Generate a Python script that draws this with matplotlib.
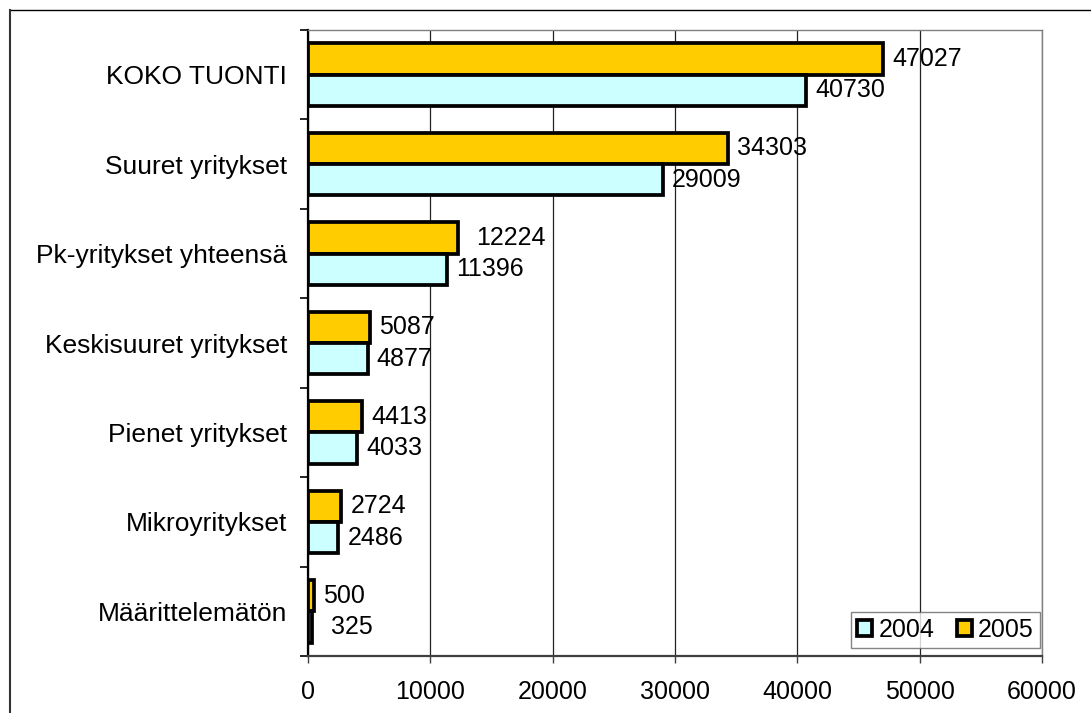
import matplotlib
matplotlib.use("Agg")
import matplotlib.pyplot as plt
from matplotlib.patches import Patch
from matplotlib.lines import Line2D

plt.rcParams['font.family'] = ['Liberation Sans', 'DejaVu Sans']

categories = ["KOKO TUONTI", "Suuret yritykset", "Pk-yritykset yhteensä",
              "Keskisuuret yritykset", "Pienet yritykset", "Mikroyritykset",
              "Määrittelemätön"]
values_2004 = [40730, 29009, 11396, 4877, 4033, 2486, 325]
values_2005 = [47027, 34303, 12224, 5087, 4413, 2724, 500]
series_names = ["2004", "2005"]
x_ticks = [0, 10000, 20000, 30000, 40000, 50000, 60000]

# extra label offsets (points) for labels that sit further from their bar
extra_2004 = [0, 0, 0, 0, 0, 0, 7]
extra_2005 = [0, 0, 7, 0, 0, 0, 0]

c2004 = "#CCFFFF"
c2005 = "#FFCC00"

fig = plt.figure(figsize=(10.91, 7.13), dpi=100)
ax = fig.add_axes([308/1091, 1-656/713, (1042-308)/1091, (656-30)/713])

n = len(categories)
h = 0.35
centers = [i + 0.5 for i in range(n)]
y05 = [c - h/2 for c in centers]
y04 = [c + h/2 for c in centers]

elw = 2.7
ax.barh(y05, values_2005, height=h, color=c2005, edgecolor="black", linewidth=elw, zorder=3)
ax.barh(y04, values_2004, height=h, color=c2004, edgecolor="black", linewidth=elw, zorder=3)

fs = 18
for y, v, e in zip(y05, values_2005, extra_2005):
    ax.annotate(str(v), xy=(v, y), xytext=(6.5 + e, 0), textcoords="offset points",
                va="center", ha="left", fontsize=fs, zorder=4)
for y, v, e in zip(y04, values_2004, extra_2004):
    ax.annotate(str(v), xy=(v, y), xytext=(6.5 + e, 0), textcoords="offset points",
                va="center", ha="left", fontsize=fs, zorder=4)

ax.set_xlim(x_ticks[0], x_ticks[-1])
ax.set_ylim(n, 0)
ax.set_xticks(x_ticks)
ax.set_xticklabels([str(t) for t in x_ticks], fontsize=fs)
ax.set_yticks(range(n + 1))
ax.set_yticklabels([])
ax.set_yticks(centers, minor=True)
ax.set_yticklabels(categories, minor=True, fontsize=19)
ax.tick_params(axis="y", which="minor", length=0, pad=15)
ax.tick_params(axis="y", which="major", length=6, width=1.2, direction="out", color="black")
ax.tick_params(axis="x", which="major", length=5, width=1.0, direction="out", color="#404040", pad=12)

ax.grid(axis="x", color="#222222", linewidth=0.9, zorder=0)
ax.set_axisbelow(True)

ax.spines["left"].set_color("black")
ax.spines["left"].set_linewidth(1.6)
ax.spines["bottom"].set_color("#404040")
ax.spines["bottom"].set_linewidth(1.6)
ax.spines["top"].set_color("#808080")
ax.spines["top"].set_linewidth(1.0)
ax.spines["right"].set_color("#808080")
ax.spines["right"].set_linewidth(1.0)

handles = [Patch(facecolor=c2004, edgecolor="black", linewidth=elw),
           Patch(facecolor=c2005, edgecolor="black", linewidth=elw)]
leg = ax.legend(handles, series_names, loc="lower right",
                bbox_to_anchor=((1040-308)/734, (656-648)/626),
                borderaxespad=0, ncol=2, fontsize=fs, frameon=True, fancybox=False,
                handlelength=0.6, handleheight=0.6, handletextpad=0.25,
                columnspacing=0.9, borderpad=0.25)
leg.get_frame().set_edgecolor("#666666")
leg.get_frame().set_linewidth(1.0)
leg.set_zorder(5)

# outer chart frame (extends past the right and bottom edges)
fx = 10/1091
fy = 1 - 9.5/713
fig.add_artist(Line2D([fx, 1.0], [fy, fy], transform=fig.transFigure, color="black", linewidth=1.0))
fig.add_artist(Line2D([fx, fx], [0.0, fy], transform=fig.transFigure, color="#333333", linewidth=1.5))

fig.savefig("out.png", dpi=100)
